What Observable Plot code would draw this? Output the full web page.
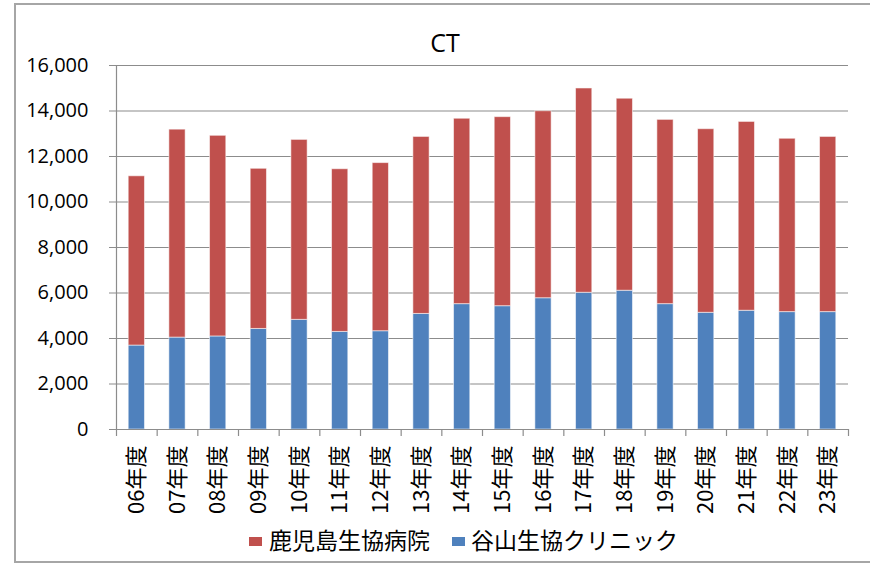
<!DOCTYPE html>
<html>
<head>
<meta charset="utf-8">
<script src="https://cdn.jsdelivr.net/npm/d3@7"></script>
<script src="https://cdn.jsdelivr.net/npm/@observablehq/plot@0.6"></script>
<style>
  html, body { margin: 0; padding: 0; background: #fff; overflow: hidden; }
  #wrap { position: relative; width: 870px; height: 568px; overflow: hidden; }
  #border { position: absolute; left: 14px; top: 3px; width: 880px; height: 560px; border: 2px solid #a6a6a6; box-sizing: border-box; }
  #title { position: absolute; left: 345px; width: 200px; top: 27px; text-align: center; font-family: "Open Sans", sans-serif; font-size: 25px; line-height: 30px; color: #000; }
  #chart { position: absolute; left: 0; top: 0; }
  .leg { position: absolute; font-family: "Noto Sans CJK JP", sans-serif; font-size: 23px; line-height: 28px; color: #000; white-space: nowrap; }
  .sw { position: absolute; width: 13px; height: 9px; }
</style>
</head>
<body>
<div id="wrap">
  <div id="border"></div>
  <div id="chart"></div>
  <div id="title">CT</div>
  <div class="sw" style="left:249px; top:537px; background:#C0504D;"></div>
  <div class="leg" style="left:269px; top:525px;">鹿児島生協病院</div>
  <div class="sw" style="left:452px; top:537px; background:#4F81BD;"></div>
  <div class="leg" style="left:471px; top:525px;">谷山生協クリニック</div>
</div>
<script>
const years = ["06年度","07年度","08年度","09年度","10年度","11年度","12年度","13年度","14年度","15年度","16年度","17年度","18年度","19年度","20年度","21年度","22年度","23年度"];
const seriesNames = ["鹿児島生協病院", "谷山生協クリニック"];
const seriesColors = ["#C0504D", "#4F81BD"];
// 谷山生協クリニック (bottom, blue)
const taniyama = [3690, 4040, 4090, 4420, 4820, 4290, 4320, 5080, 5510, 5420, 5770, 6010, 6100, 5510, 5130, 5220, 5160, 5160];
// 鹿児島生協病院 (top, red)
const kagoshima = [7440, 9140, 8820, 7040, 7910, 7150, 7390, 7780, 8150, 8310, 8220, 8980, 8440, 8100, 8070, 8300, 7620, 7700];
const yTicks = [0, 2000, 4000, 6000, 8000, 10000, 12000, 14000, 16000];

const data = [];
years.forEach((y, i) => data.push({year: y, series: seriesNames[1], value: taniyama[i]}));
years.forEach((y, i) => data.push({year: y, series: seriesNames[0], value: kagoshima[i]}));

const W = 870, H = 568, mL = 116, mR = 22, mT = 65, mB = 139;
const step = (W - mL - mR) / years.length;

const plot = Plot.plot({
  width: W,
  height: H,
  marginLeft: mL,
  marginRight: mR,
  marginTop: mT,
  marginBottom: mB,
  style: {background: "transparent", color: "#000", overflow: "visible"},
  x: {domain: years, paddingInner: 0.6, paddingOuter: 0.3, round: false, label: null},
  y: {domain: [0, 16000], label: null},
  color: {domain: seriesNames, range: seriesColors},
  marks: [
    Plot.gridY(yTicks, {stroke: "#8c8c8c", strokeOpacity: 1, strokeWidth: 1.2, insetLeft: -7}),
    Plot.barY(data, Plot.stackY({x: "year", y: "value", fill: "series", stroke: "#ffffff", strokeOpacity: 0.55, strokeWidth: 1})),
    Plot.ruleY([0], {stroke: "#8c8c8c", strokeWidth: 1.2}),
    Plot.ruleX(years, {x: d => d, dx: -step / 2, y1: 0, y2: 0, insetBottom: -7, stroke: "#8c8c8c", strokeWidth: 1.2}),
    Plot.ruleX([years[years.length - 1]], {x: d => d, dx: step / 2, y1: 0, y2: 0, insetBottom: -7, stroke: "#8c8c8c", strokeWidth: 1.2}),
    Plot.ruleX([years[0]], {x: d => d, dx: -step / 2, y1: 0, y2: 16000, stroke: "#8c8c8c", strokeWidth: 1.2}),
    Plot.axisY(yTicks, {tickSize: 0, tickPadding: 28, tickFormat: d3.format(","), fontSize: 20, fontFamily: "Open Sans", fill: "#000"}),
    Plot.axisX({tickRotate: -90, tickSize: 0, tickPadding: 16, fontSize: 22, fontFamily: "Noto Sans CJK JP", fill: "#000"})
  ]
});
document.getElementById("chart").appendChild(plot);
</script>
</body>
</html>
